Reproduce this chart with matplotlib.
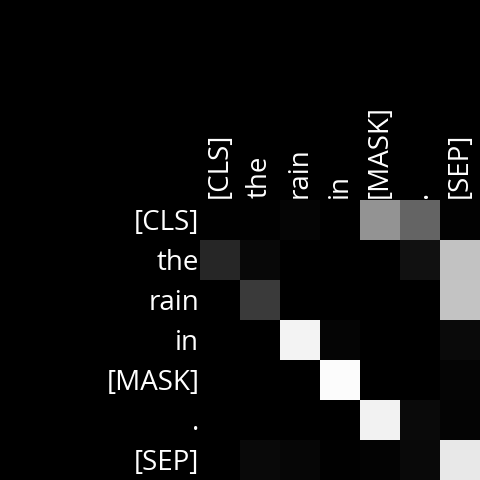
import numpy as np
import matplotlib
matplotlib.use("Agg")
import matplotlib.pyplot as plt

tokens = ["[CLS]", "the", "rain", "in", "[MASK]", ".", "[SEP]"]
row_cls = [1, 1, 5, 0, 148, 100, 2]
row_the = [38, 8, 0, 0, 0, 17, 194]
row_rain = [0, 58, 0, 0, 0, 0, 196]
row_in = [0, 0, 244, 5, 0, 0, 10]
row_mask = [0, 0, 0, 252, 0, 0, 5]
row_dot = [0, 0, 0, 0, 242, 10, 4]
row_sep = [0, 9, 6, 1, 3, 9, 232]

attn = np.array([row_cls, row_the, row_rain, row_in, row_mask, row_dot, row_sep]) / 255.0

plt.rcParams['font.family'] = ['Open Sans', 'DejaVu Sans']
fig = plt.figure(figsize=(4.8, 4.8), dpi=100, facecolor='black')
ax = fig.add_axes([200/480, 0, 280/480, 280/480])
ax.set_facecolor('black')
ax.imshow(attn, cmap='gray', vmin=0, vmax=1, aspect='auto', interpolation='nearest')
ax.set_xticks(range(len(tokens)))
ax.set_yticks(range(len(tokens)))
ax.set_xticklabels(tokens, rotation=90, color='white', fontsize=20)
ax.set_yticklabels(tokens, color='white', fontsize=20)
ax.xaxis.tick_top()
ax.tick_params(axis='y', length=0, pad=0.5)
ax.tick_params(axis='x', length=0, pad=1.5)
for s in ax.spines.values():
    s.set_visible(False)
fig.savefig('out.png', dpi=100, facecolor='black')
